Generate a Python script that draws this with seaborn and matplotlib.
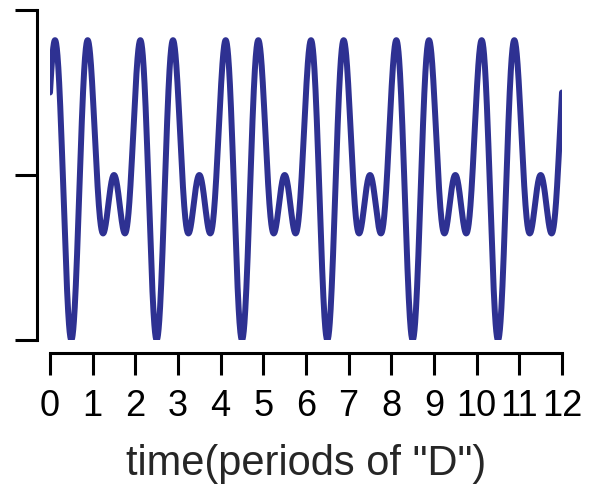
import numpy as np
import pandas as pd
import seaborn as sns
import matplotlib
matplotlib.use("Agg")
import matplotlib.pyplot as plt

# chord made of two notes: D and the fifth above it (A)
notes = ["D", "A"]
freq_ratio = [1.0, 1.5]       # cycles per period of "D"
amplitude = [1.0, 1.0]
phase_cycles = [0.0, -0.25]   # cos phase offset, in cycles

t = np.linspace(0, 12, 2400)
signal = np.zeros_like(t)
for f, a, p in zip(freq_ratio, amplitude, phase_cycles):
    signal += a * np.cos(2 * np.pi * (f * t + p))

df = pd.DataFrame({"time": t, "amp": signal})

sns.set_style("white")
plt.rcParams["font.family"] = ["Liberation Sans", "DejaVu Sans"]

fig = plt.figure(figsize=(5.9, 4.92), dpi=100)
ax = fig.add_axes([50 / 590, 152 / 492, 512 / 590, 330 / 492])
sns.lineplot(data=df, x="time", y="amp", color="#2e3192", linewidth=4.3, ax=ax)

ax.set_xlim(0, 12)
ax.set_ylim(-2, 2)
ax.set_xticks(range(13))
ax.set_yticks([-2, 0, 2])
ax.set_yticklabels([])
ax.set_ylabel("")
ax.set_xlabel('time(periods of "D")', fontsize=30, color="#262626", labelpad=14)

sns.despine(ax=ax)
for side in ["left", "bottom"]:
    ax.spines[side].set_position(("outward", 9.4))
    ax.spines[side].set_linewidth(2.2)
    ax.spines[side].set_color("black")
ax.spines["left"].set_bounds(-2, 2)
ax.spines["bottom"].set_bounds(0, 12)
ax.tick_params(axis="both", length=16, width=2.2, color="black",
               labelsize=26, labelcolor="black", pad=10, left=True, bottom=True)

fig.savefig("out.png", dpi=100)
